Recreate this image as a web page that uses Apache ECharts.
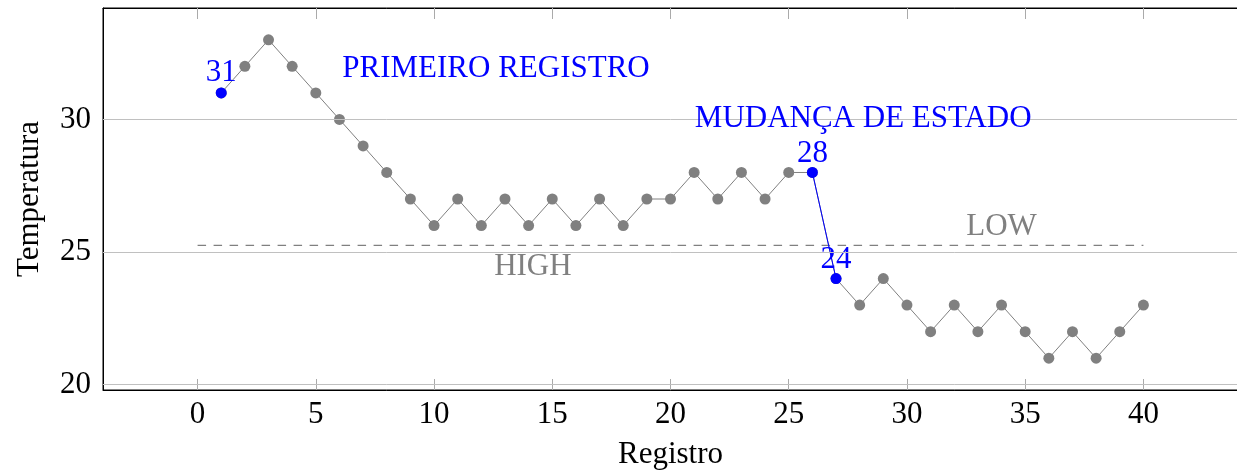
<!DOCTYPE html>
<html>
<head>
<meta charset="utf-8">
<style>
  html, body { margin: 0; padding: 0; background: #ffffff; }
  #chart { width: 1237px; height: 473px; }
</style>
<script src="https://cdn.jsdelivr.net/npm/echarts@6/dist/echarts.min.js"></script>
</head>
<body>
<div id="chart"></div>
<script>
// ---- data ----
const registros = [1,2,3,4,5,6,7,8,9,10,11,12,13,14,15,16,17,18,19,20,21,22,23,24,25,26,27,28,29,30,31,32,33,34,35,36,37,38,39,40];
const temperaturas = [31,32,33,32,31,30,29,28,27,26,27,26,27,26,27,26,27,26,27,27,28,27,28,27,28,28,24,23,24,23,22,23,22,23,22,21,22,21,22,23];
const primeiroIdx = [0];          // first record (blue)
const mudancaIdx = [25, 26];      // state change segment (blue)
const limiteX = [0, 40];
const limiteY = 25.25;
const xTicks = [0, 5, 10, 15, 20, 25, 30, 35, 40];
const yTicks = [20, 25, 30];
const blueNotes = [
  { text: 'PRIMEIRO REGISTRO', x: 12.62, y: 31.92 },
  { text: 'MUDANÇA DE ESTADO', x: 28.15, y: 30.02 }
];
const grayNotes = [
  { text: 'LOW', x: 34.0, y: 25.95 },
  { text: 'HIGH', x: 14.18, y: 24.44 }
];

// ---- styles ----
const FONT = 'Liberation Serif';
const FS = 31;
const GRAY = '#808080';
const BLUE = '#0000ff';

const allPts = registros.map((x, i) => [x, temperaturas[i]]);
const firstPts = primeiroIdx.map(i => [registros[i], temperaturas[i]]);
const changePts = mudancaIdx.map(i => [registros[i], temperaturas[i]]);

const chart = echarts.init(document.getElementById('chart'), null, { renderer: 'canvas' });

function ticks(values, color, len) {
  return { show: true, inside: true, length: len, customValues: values, lineStyle: { color: color, width: 1 } };
}

chart.setOption({
  animation: false,
  backgroundColor: '#ffffff',
  grid: { left: 103, top: 8, width: 1135, height: 382, outerBoundsMode: 'none', containLabel: false,
          show: true, borderColor: '#000', borderWidth: 1, backgroundColor: 'transparent' },
  xAxis: [
    {
      type: 'value', position: 'bottom', min: -4, max: 44,
      name: 'Registro', nameLocation: 'middle', nameGap: 49,
      nameTextStyle: { fontFamily: FONT, fontSize: FS, color: '#000' },
      axisLine: { show: true, onZero: false, lineStyle: { color: '#000', width: 1 } },
      axisTick: ticks(xTicks, '#aaaaaa', 11),
      axisLabel: { customValues: xTicks, fontFamily: FONT, fontSize: FS, color: '#000', margin: 9 },
      splitLine: { show: false }
    },
    {
      type: 'value', position: 'top', min: -4, max: 44,
      axisLine: { show: true, onZero: false, lineStyle: { color: '#000', width: 1 } },
      axisTick: ticks(xTicks, '#aaaaaa', 11),
      axisLabel: { show: false },
      splitLine: { show: false }
    }
  ],
  yAxis: [
    {
      type: 'value', position: 'left', min: 19.8, max: 34.2,
      name: 'Temperatura', nameLocation: 'middle', nameGap: 58,
      nameTextStyle: { fontFamily: FONT, fontSize: FS, color: '#000' },
      axisLine: { show: true, onZero: false, lineStyle: { color: '#000', width: 1 } },
      axisTick: ticks(yTicks, '#888888', 12),
      axisLabel: { customValues: yTicks, fontFamily: FONT, fontSize: FS, color: '#000', margin: 12 },
      splitLine: { show: false }
    },
    {
      type: 'value', position: 'right', min: 19.8, max: 34.2,
      axisLine: { show: true, onZero: false, lineStyle: { color: '#000', width: 1 } },
      axisTick: ticks(yTicks, '#888888', 11),
      axisLabel: { show: false },
      splitLine: { show: false }
    }
  ],
  series: [
    {
      name: 'limite', type: 'line', z: 1,
      data: limiteX.map(x => [x, limiteY]),
      symbol: 'none',
      lineStyle: { color: GRAY, width: 1.2, type: [8.5, 7.5] },
      silent: true,
      markLine: {
        silent: true, symbol: 'none', animation: false,
        label: { show: false },
        lineStyle: { color: '#c0c0c0', width: 1, type: 'solid' },
        data: yTicks.map(v => ({ yAxis: v }))
      }
    },
    {
      name: 'temperatura', type: 'line', z: 3,
      data: allPts,
      symbol: 'circle', symbolSize: 11,
      itemStyle: { color: GRAY },
      lineStyle: { color: GRAY, width: 1 }
    },
    {
      name: 'mudanca', type: 'line', z: 4,
      data: changePts,
      symbol: 'circle', symbolSize: 11,
      itemStyle: { color: BLUE, opacity: 1 },
      lineStyle: { color: BLUE, width: 1 },
      label: { show: true, position: 'top', distance: -2, fontFamily: FONT, fontSize: FS, color: BLUE,
               formatter: p => String(p.value[1]) }
    },
    {
      name: 'primeiro', type: 'scatter', z: 4,
      data: firstPts,
      symbol: 'circle', symbolSize: 11,
      itemStyle: { color: BLUE, opacity: 1 },
      label: { show: true, position: 'top', distance: -1, fontFamily: FONT, fontSize: FS, color: BLUE,
               formatter: p => String(p.value[1]) }
    },
    {
      name: 'notasAzuis', type: 'scatter', z: 5, silent: true,
      data: blueNotes.map(n => ({ value: [n.x, n.y], name: n.text })),
      symbolSize: 1, itemStyle: { color: 'rgba(0,0,0,0)', opacity: 1 },
      label: { show: true, position: 'inside', fontFamily: FONT, fontSize: FS, color: BLUE, formatter: p => p.name }
    },
    {
      name: 'notasCinza', type: 'scatter', z: 5, silent: true,
      data: grayNotes.map(n => ({ value: [n.x, n.y], name: n.text })),
      symbolSize: 1, itemStyle: { color: 'rgba(0,0,0,0)', opacity: 1 },
      label: { show: true, position: 'inside', fontFamily: FONT, fontSize: FS, color: GRAY, formatter: p => p.name }
    }
  ]
});
</script>
</body>
</html>
